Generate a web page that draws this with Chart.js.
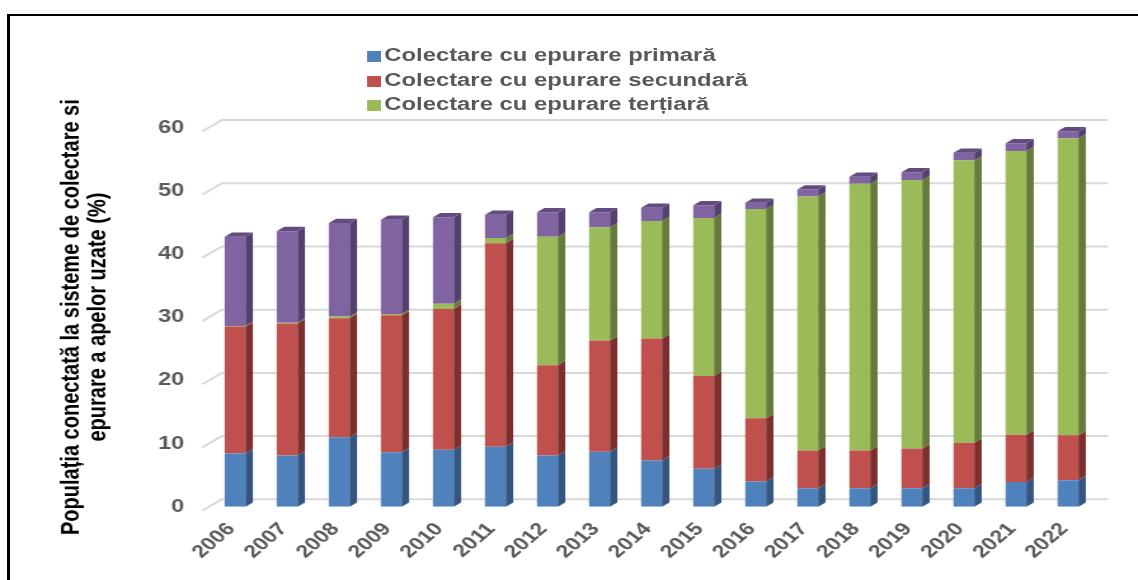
<!DOCTYPE html>
<html lang="ro">
<head>
<meta charset="utf-8">
<title>Populația conectată la sisteme de colectare si epurare a apelor uzate</title>
<script src="https://cdn.jsdelivr.net/npm/chart.js@4.4.1/dist/chart.umd.min.js"></script>
<style>
  html, body { margin: 0; padding: 0; background: #fff; overflow: hidden; }
  #rama { position: absolute; left: 7px; top: 14px; width: 1300px; height: 700px;
          border-top: 2px solid #000; border-left: 3px solid #000; }
  /* imaginea originala e intinsa pe orizontala */
  #cadru { position: absolute; left: 0; top: 0; width: 896px; height: 580px;
           transform: scaleX(1.2701); transform-origin: 0 0; }
  #legenda { position: absolute; left: 289px; top: 43px;
             font: bold 18.8px "Liberation Sans", Arial, sans-serif; color: #595959; }
  #legenda div { display: flex; align-items: center; height: 24.5px; white-space: nowrap; }
  #legenda span { display: inline-block; width: 10.5px; height: 11px; margin: 3px 3px 0 0; }
</style>
</head>
<body>
<div id="rama"></div>
<div id="cadru">
  <canvas id="grafic"></canvas>
  <div id="legenda"></div>
</div>
<script>
const ani = ['2006', '2007', '2008', '2009', '2010', '2011', '2012', '2013', '2014',
             '2015', '2016', '2017', '2018', '2019', '2020', '2021', '2022'];
const primara   = [8.4, 8.1, 11.0, 8.6, 9.0, 9.5, 8.1, 8.7, 7.3, 6.0, 4.0, 2.9, 2.9, 2.9, 2.9, 3.9, 4.2];
const secundara = [20.1, 20.9, 18.8, 21.7, 22.3, 32.2, 14.3, 17.6, 19.3, 14.7, 10.0, 6.0, 6.0, 6.3, 7.2, 7.5, 7.1];
const tertiara  = [0.1, 0.1, 0.3, 0.2, 0.8, 0.8, 20.3, 17.9, 18.6, 25.0, 33.1, 40.2, 42.2, 42.5, 44.7, 44.9, 47.0];
const faraEpurare = [14.1, 14.5, 14.8, 14.9, 13.7, 3.7, 3.9, 2.4, 2.1, 2.0, 1.0, 1.1, 1.1, 1.2, 1.2, 1.2, 1.1];
const etichete = ['Colectare cu epurare primară', 'Colectare cu epurare secundară',
                  'Colectare cu epurare terțiară', 'Colectare fără epurare'];

const culori = ['#4f81bd', '#c0504d', '#9bbb59', '#8064a2'];
const culoriLaterale = ['#33557f', '#7c2f2d', '#657b39', '#54406f'];
const culoareSus = '#614c80';
const font = '"Liberation Sans", Arial, sans-serif';
const adancime = { dx: 5.8, dy: -4.3 };

// liniile de grila pe peretele din spate
const pereteSpate = {
  id: 'pereteSpate',
  beforeDatasetsDraw(chart) {
    const { ctx, chartArea, scales } = chart;
    ctx.save();
    ctx.strokeStyle = '#d9d9d9';
    ctx.lineWidth = 2;
    scales.y.ticks.forEach(t => {
      const py = scales.y.getPixelForValue(t.value);
      ctx.beginPath();
      ctx.moveTo(chartArea.left - 5.5, py + 4);
      ctx.lineTo(chartArea.left + 10, py - 7.4);
      ctx.lineTo(chartArea.right + 11, py - 7.4);
      ctx.stroke();
    });
    ctx.restore();
  }
};

// fetele laterale si de sus ale coloanelor
const coloane3d = {
  id: 'coloane3d',
  afterDatasetsDraw(chart) {
    const ctx = chart.ctx;
    const { dx, dy } = adancime;
    ctx.save();
    chart.data.labels.forEach((an, i) => {
      let sus = null;
      chart.data.datasets.forEach((ds, d) => {
        const el = chart.getDatasetMeta(d).data[i];
        if (!el || !(ds.data[i] > 0)) return;
        const { x, y, base, width } = el.getProps(['x', 'y', 'base', 'width'], true);
        const r = x + width / 2;
        ctx.fillStyle = culoriLaterale[d];
        ctx.beginPath();
        ctx.moveTo(r, y);
        ctx.lineTo(r + dx, y + dy);
        ctx.lineTo(r + dx, base + dy);
        ctx.lineTo(r, base);
        ctx.closePath();
        ctx.fill();
        sus = { x, y, width };
      });
      if (sus) {
        const l = sus.x - sus.width / 2, r = sus.x + sus.width / 2;
        ctx.fillStyle = culoareSus;
        ctx.beginPath();
        ctx.moveTo(l, sus.y);
        ctx.lineTo(r, sus.y);
        ctx.lineTo(r + dx, sus.y + dy);
        ctx.lineTo(l + dx, sus.y + dy);
        ctx.closePath();
        ctx.fill();
      }
    });
    ctx.restore();
  }
};

const serii = [primara, secundara, tertiara, faraEpurare];

const grafic = new Chart(document.getElementById('grafic'), {
  type: 'bar',
  data: {
    labels: ani,
    datasets: serii.map((valori, k) => ({
      label: etichete[k],
      data: valori,
      backgroundColor: culori[k],
      borderWidth: 0,
      barPercentage: 0.4,
      categoryPercentage: 1.0
    }))
  },
  options: {
    responsive: true,
    maintainAspectRatio: false,
    animation: false,
    layout: { padding: { left: 36, right: 34.6, top: 127.5, bottom: 0 } },
    plugins: {
      legend: { display: false },
      tooltip: { enabled: true }
    },
    scales: {
      x: {
        stacked: true,
        grid: { display: false, drawTicks: false },
        border: { display: false },
        ticks: {
          color: '#595959',
          font: { family: font, size: 18, weight: 'bold' },
          minRotation: 47,
          maxRotation: 47,
          autoSkip: false,
          labelOffset: -3,
          padding: 12
        },
        afterFit(s) { s.height = 73.3; }
      },
      y: {
        stacked: true,
        min: 0,
        max: 60,
        grid: { display: false, drawTicks: false },
        border: { display: false },
        ticks: {
          stepSize: 10,
          color: '#595959',
          font: { family: font, size: 18.5, weight: 'bold' },
          padding: 19.6
        },
        title: {
          display: true,
          text: ['Populația conectată la sisteme de colectare si', 'epurare a apelor uzate (%)'],
          color: '#000',
          font: { family: font, size: 20, weight: 'bold', lineHeight: 1.05 },
          padding: { top: 10, bottom: 0 }
        },
        afterFit(s) { s.width = 128.6; }
      }
    }
  },
  plugins: [pereteSpate, coloane3d]
});

const legenda = document.getElementById('legenda');
grafic.data.datasets.slice(0, 3).forEach(ds => {
  const rand = document.createElement('div');
  rand.innerHTML = `<span style="background:${ds.backgroundColor}"></span>${ds.label}`;
  legenda.appendChild(rand);
});
</script>
</body>
</html>
